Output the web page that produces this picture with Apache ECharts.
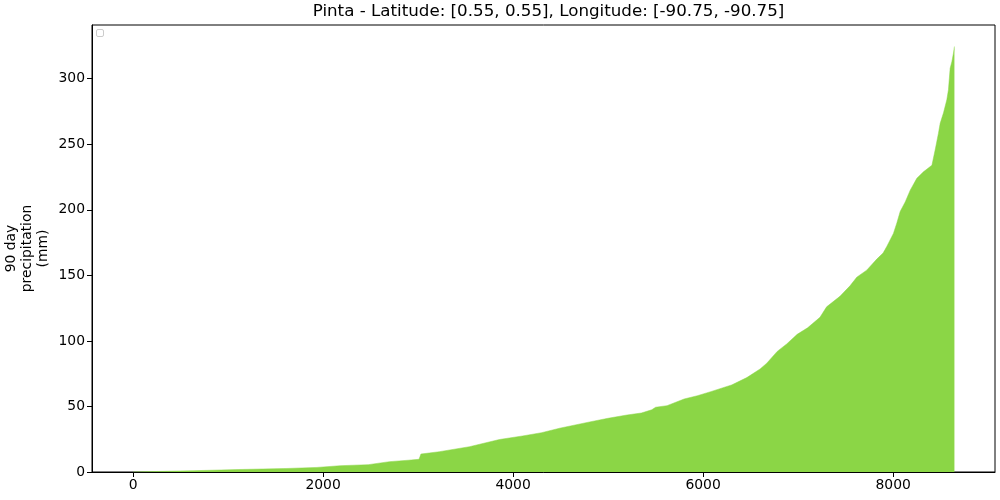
<!DOCTYPE html>
<html>
<head>
<meta charset="utf-8">
<script src="https://cdn.jsdelivr.net/npm/echarts@6/dist/echarts.min.js"></script>
<style>html,body{margin:0;padding:0;background:#fff}#c{width:1000px;height:500px}</style>
</head>
<body>
<div id="c"></div>
<script>
const titleText = "Pinta - Latitude: [0.55, 0.55], Longitude: [-90.75, -90.75]";
const yLabel = "90 day\nprecipitation\n(mm)";
const xTicks = [0, 2000, 4000, 6000, 8000];
const yTicks = [0, 50, 100, 150, 200, 250, 300];
// sorted sample index
const sampleIndex = [0, 200, 201, 640, 645, 1115, 1120, 1620, 1625, 1935, 1940, 2180, 2185, 2475, 2480, 2700, 2900, 3010, 3030, 3225, 3541, 3857, 4100, 4300, 4490, 4806, 5000, 5200, 5350, 5460, 5500, 5620, 5800, 5940, 6080, 6300, 6460, 6600, 6670, 6780, 6880, 6990, 7100, 7230, 7300, 7440, 7546, 7617, 7722, 7828, 7894, 7933, 8003, 8039, 8074, 8127, 8180, 8249, 8319, 8408, 8443, 8477, 8495, 8530, 8565, 8582, 8600, 8618, 8635, 8645];
// 90 day precipitation (mm)
const precip = [0, 0.3, 0.8, 1.0, 1.8, 1.9, 2.5, 2.7, 3.3, 3.5, 4.6, 4.8, 5.3, 5.6, 6.3, 7.9, 9.0, 9.7, 13.7, 15.5, 19.3, 24.8, 27.5, 30, 33.4, 38.2, 41, 43.5, 45, 47.5, 49.4, 50.6, 55.7, 58.2, 61.3, 66.4, 72, 78.6, 83, 92, 97.7, 105, 110, 118, 126, 134, 142, 148.6, 154, 162.4, 167, 172, 182, 190, 198.7, 206, 215, 224, 229, 234, 246, 258.5, 266, 274, 284, 291.6, 308, 313, 319.6, 324.6];

const seriesData = sampleIndex.map((x, i) => [x, precip[i]]);
const font = "DejaVu Sans";
const chart = echarts.init(document.getElementById('c'), null, {renderer: 'canvas'});
chart.setOption({
  animation: false,
  backgroundColor: '#fff',
  title: {
    text: titleText, left: 543.5, textAlign: 'center', top: -2,
    textStyle: {fontFamily: font, fontSize: 16.7, fontWeight: 'normal', color: '#000'}
  },
  grid: {left: 92, right: 5, top: 25, bottom: 28, containLabel: false, outerBoundsMode: 'none',
    show: true, borderColor: '#000', borderWidth: 1, backgroundColor: 'transparent'},
  xAxis: {
    type: 'value', min: -432, max: 9072,
    axisLine: {show: true, onZero: false, lineStyle: {color: '#000', width: 1}},
    axisTick: {show: true, length: 5, lineStyle: {color: '#000'}, customValues: xTicks},
    axisLabel: {fontFamily: font, fontSize: 13.9, color: '#000', margin: 6, customValues: xTicks,
      formatter: v => String(v)},
    splitLine: {show: false}
  },
  yAxis: {
    type: 'value', min: 0, max: 341,
    name: yLabel, nameLocation: 'middle', nameGap: 41, nameMoveOverlap: false,
    nameTextStyle: {fontFamily: font, fontSize: 13.9, color: '#000', align: 'center', lineHeight: 16},
    axisLine: {show: true, onZero: false, lineStyle: {color: '#000', width: 1}},
    axisTick: {show: true, length: 5, lineStyle: {color: '#000'}, customValues: yTicks},
    axisLabel: {fontFamily: font, fontSize: 13.9, color: '#000', margin: 7, customValues: yTicks,
      formatter: v => String(v)},
    splitLine: {show: false}
  },
  graphic: [{
    type: 'rect', left: 96, top: 29,
    shape: {width: 7, height: 7, r: 1.5},
    style: {fill: '#fff', stroke: '#cccccc', lineWidth: 1}
  }],
  series: [{
    type: 'line', data: seriesData, showSymbol: false, symbol: 'none',
    lineStyle: {width: 0.5, color: '#8bd646'},
    areaStyle: {color: '#8bd646', opacity: 1, origin: 'start'},
    clip: true
  }]
});
</script>
</body>
</html>
